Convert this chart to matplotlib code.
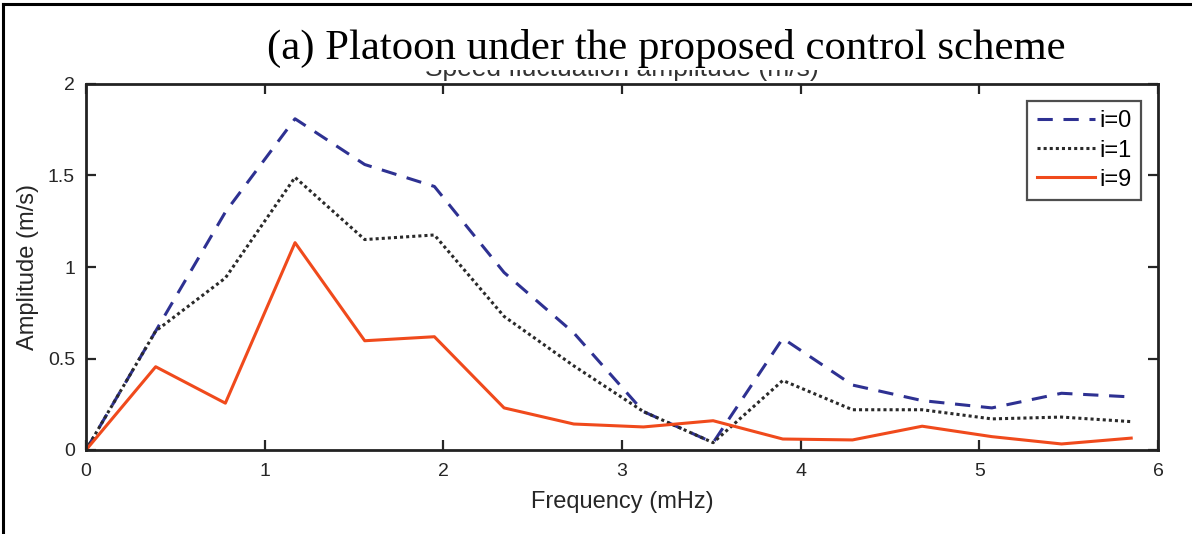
import matplotlib
matplotlib.use("Agg")
import matplotlib.pyplot as plt
from matplotlib.lines import Line2D
from matplotlib.transforms import Bbox, TransformedBbox

freq = [0, 0.39, 0.78, 1.17, 1.56, 1.95, 2.34, 2.73, 3.12, 3.51, 3.90, 4.29, 4.68, 5.07, 5.46, 5.85]
amp_i0 = [0, 0.65, 1.30, 1.81, 1.56, 1.44, 0.97, 0.64, 0.21, 0.04, 0.61, 0.355, 0.27, 0.23, 0.31, 0.29]
amp_i1 = [0, 0.65, 0.94, 1.49, 1.15, 1.175, 0.73, 0.46, 0.21, 0.04, 0.38, 0.22, 0.22, 0.17, 0.18, 0.155]
amp_i9 = [0, 0.455, 0.256, 1.133, 0.597, 0.619, 0.23, 0.142, 0.126, 0.16, 0.06, 0.055, 0.13, 0.073, 0.033, 0.065]
labels = ["i=0", "i=1", "i=9"]
xticks = [0, 1, 2, 3, 4, 5, 6]
yticks = [0, 0.5, 1, 1.5, 2]
ytick_labels = ["0", "0.5", "1", "1.5", "2"]

plt.rcParams['font.family'] = ['Liberation Sans', 'DejaVu Sans']

fig = plt.figure(figsize=(11.92, 5.34), dpi=100)
ax = fig.add_axes([86/1192, 84/534, (1158-86)/1192, (450-84)/534])

ax.plot(freq, amp_i0, color='#2e3192', linestyle=(0, (5, 3.5)), linewidth=2.2, label=labels[0])
ax.plot(freq, amp_i1, color='#2a2a2a', linestyle=(0, (1, 1)), linewidth=2.2, label=labels[1])
ax.plot(freq, amp_i9, color='#f04a1c', linestyle='-', linewidth=2.2, label=labels[2])

ax.set_xlim(0, 6)
ax.set_ylim(0, 2)
ax.set_xticks(xticks)
ax.set_xticklabels([str(t) for t in xticks])
ax.set_yticks(yticks)
ax.set_yticklabels(ytick_labels)
ax.tick_params(direction='in', length=7, width=1.6, top=True, right=True,
               labelsize=14, colors='#262626')
ax.tick_params(axis='y', pad=8)
ax.tick_params(axis='x', pad=9)
for s in ax.spines.values():
    s.set_linewidth(2.0)
    s.set_color('#222222')

ax.set_xlabel("Frequency (mHz)", fontsize=17, color='#262626', labelpad=8)
ax.set_ylabel("Amplitude (m/s)", fontsize=17, color='#262626', labelpad=6)
sub = ax.set_title("Speed fluctuation amplitude (m/s)", fontsize=19, color='#333333', pad=6)
# only the lower strip of this subtitle is visible in the reference (hidden by the big title)
sub.set_clip_box(TransformedBbox(Bbox([[0, 0], [1, (534 - 70) / 534]]), fig.transFigure))
sub.set_clip_on(True)

leg = ax.legend(loc='upper right', fontsize=17, handlelength=2.45, frameon=True,
                fancybox=False, edgecolor='#222222', borderaxespad=0.72,
                labelspacing=0.3, handletextpad=0.2, borderpad=0.4)
leg.get_frame().set_linewidth(1.6)

fig.text(666/1192, (534-48)/534, "(a) Platoon under the proposed control scheme",
         fontsize=30.8, family=['Liberation Serif', 'DejaVu Serif'], ha='center', va='center',
         color='black', zorder=6)

# outer frame lines (left and top)
fig.add_artist(Line2D([3/1192, 3/1192], [0, 1 - 4/534], transform=fig.transFigure,
                      color='black', linewidth=2.2, zorder=7))
fig.add_artist(Line2D([3/1192, 1], [1 - 4/534, 1 - 4/534], transform=fig.transFigure,
                      color='black', linewidth=2.2, zorder=7))

fig.savefig("out.png", dpi=100)
